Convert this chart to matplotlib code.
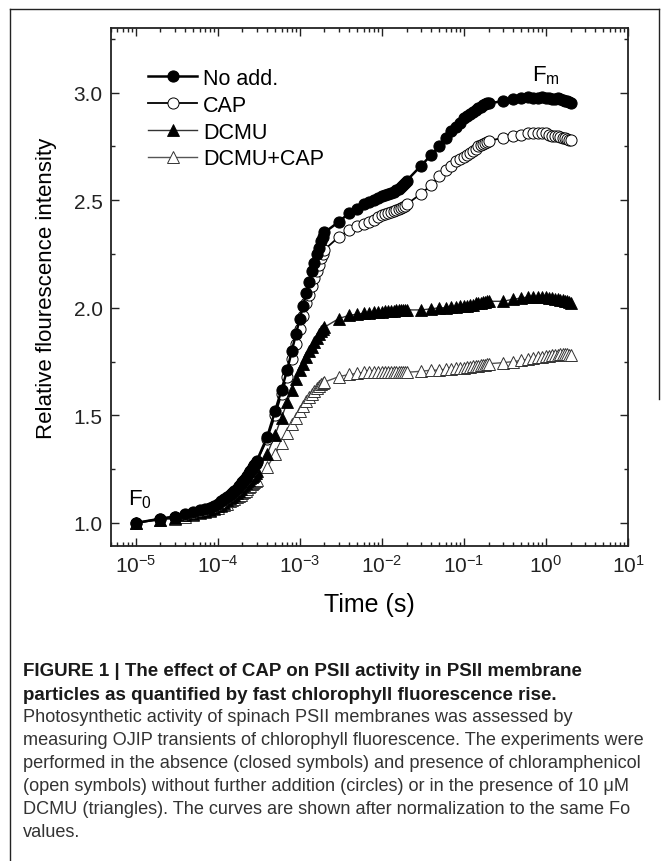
import matplotlib
matplotlib.use("Agg")
import matplotlib.pyplot as plt
from matplotlib.ticker import (LogLocator, MultipleLocator, FormatStrFormatter, NullFormatter,
                               FixedLocator, FixedFormatter)
from matplotlib.lines import Line2D

# ---------------- data ----------------
# time points (seconds)
time_s = [
    1e-5, 2e-5, 3e-5, 4e-5, 5e-5, 6e-5, 7e-5, 8e-5, 9e-5, 1.0e-4,
    1.1e-4, 1.2e-4, 1.3e-4, 1.4e-4, 1.5e-4, 1.6e-4, 1.7e-4, 1.8e-4, 1.9e-4, 2.0e-4,
    2.1e-4, 2.2e-4, 2.3e-4, 2.4e-4, 2.5e-4, 2.6e-4, 2.7e-4, 2.8e-4, 2.9e-4, 3.0e-4,
    4e-4, 5e-4, 6e-4, 7e-4, 8e-4, 9e-4, 1.0e-3, 1.1e-3, 1.2e-3, 1.3e-3,
    1.4e-3, 1.5e-3, 1.6e-3, 1.7e-3, 1.8e-3, 1.9e-3, 2.0e-3,
    3e-3, 4e-3, 5e-3, 6e-3, 7e-3, 8e-3, 9e-3, 1.0e-2, 1.1e-2, 1.2e-2,
    1.3e-2, 1.4e-2, 1.5e-2, 1.6e-2, 1.7e-2, 1.8e-2, 1.9e-2, 2.0e-2,
    0.03, 0.04, 0.05, 0.06, 0.07, 0.08, 0.09, 0.10, 0.11, 0.12,
    0.13, 0.14, 0.15, 0.16, 0.17, 0.18, 0.19, 0.20,
    0.3, 0.4, 0.5, 0.6, 0.7, 0.8, 0.9, 1.0, 1.1, 1.2,
    1.3, 1.4, 1.5, 1.6, 1.7, 1.8, 1.9, 2.0,
]

no_add = [
    1.00, 1.02, 1.03, 1.04, 1.05, 1.06, 1.065, 1.07, 1.08, 1.09,
    1.10, 1.11, 1.12, 1.13, 1.14, 1.15, 1.16, 1.17, 1.18, 1.19,
    1.20, 1.21, 1.22, 1.23, 1.24, 1.25, 1.26, 1.27, 1.28, 1.29,
    1.40, 1.52, 1.62, 1.71, 1.80, 1.88, 1.95, 2.01, 2.07, 2.12,
    2.17, 2.21, 2.25, 2.28, 2.31, 2.33, 2.35,
    2.40, 2.44, 2.46, 2.48, 2.49, 2.50, 2.51, 2.52, 2.525, 2.53,
    2.535, 2.54, 2.545, 2.55, 2.56, 2.57, 2.58, 2.59,
    2.66, 2.71, 2.75, 2.79, 2.82, 2.84, 2.86, 2.88, 2.89, 2.90,
    2.91, 2.92, 2.93, 2.935, 2.94, 2.945, 2.95, 2.95,
    2.96, 2.97, 2.975, 2.98, 2.975, 2.975, 2.98, 2.975, 2.975, 2.97,
    2.97, 2.975, 2.97, 2.965, 2.96, 2.96, 2.955, 2.95,
]

cap = [
    1.00, 1.02, 1.03, 1.035, 1.045, 1.055, 1.06, 1.07, 1.075, 1.085,
    1.095, 1.105, 1.115, 1.125, 1.135, 1.145, 1.155, 1.165, 1.175, 1.185,
    1.195, 1.205, 1.215, 1.225, 1.235, 1.245, 1.255, 1.265, 1.275, 1.285,
    1.39, 1.50, 1.60, 1.68, 1.76, 1.83, 1.90, 1.96, 2.02, 2.06,
    2.10, 2.14, 2.17, 2.20, 2.23, 2.25, 2.27,
    2.33, 2.36, 2.38, 2.39, 2.40, 2.41, 2.42, 2.43, 2.435, 2.44,
    2.445, 2.45, 2.455, 2.46, 2.465, 2.47, 2.475, 2.48,
    2.53, 2.57, 2.61, 2.64, 2.66, 2.68, 2.69, 2.70, 2.71, 2.72,
    2.73, 2.74, 2.75, 2.755, 2.76, 2.765, 2.77, 2.775,
    2.79, 2.80, 2.805, 2.81, 2.81, 2.81, 2.81, 2.81, 2.805, 2.80,
    2.80, 2.80, 2.795, 2.79, 2.79, 2.785, 2.78, 2.78,
]

dcmu = [
    1.00, 1.015, 1.025, 1.035, 1.04, 1.05, 1.055, 1.06, 1.07, 1.08,
    1.085, 1.095, 1.105, 1.115, 1.12, 1.13, 1.14, 1.15, 1.16, 1.17,
    1.175, 1.185, 1.195, 1.20, 1.21, 1.215, 1.22, 1.225, 1.23, 1.24,
    1.32, 1.41, 1.49, 1.56, 1.62, 1.67, 1.71, 1.74, 1.77, 1.80,
    1.82, 1.84, 1.86, 1.88, 1.89, 1.90, 1.91,
    1.95, 1.965, 1.97, 1.975, 1.975, 1.98, 1.98, 1.98, 1.985, 1.985,
    1.985, 1.985, 1.99, 1.99, 1.99, 1.99, 1.99, 1.99,
    1.99, 1.995, 2.00, 2.00, 2.005, 2.005, 2.01, 2.01, 2.01, 2.015,
    2.015, 2.02, 2.02, 2.02, 2.025, 2.025, 2.03, 2.03,
    2.03, 2.04, 2.045, 2.05, 2.05, 2.05, 2.05, 2.05, 2.045, 2.045,
    2.04, 2.04, 2.035, 2.035, 2.03, 2.03, 2.025, 2.02,
]

dcmu_cap = [
    1.00, 1.015, 1.02, 1.03, 1.035, 1.045, 1.05, 1.055, 1.065, 1.07,
    1.08, 1.085, 1.09, 1.10, 1.105, 1.11, 1.12, 1.125, 1.13, 1.14,
    1.145, 1.15, 1.16, 1.165, 1.17, 1.18, 1.185, 1.19, 1.195, 1.20,
    1.26, 1.32, 1.37, 1.42, 1.46, 1.49, 1.52, 1.545, 1.565, 1.585,
    1.60, 1.615, 1.625, 1.635, 1.645, 1.65, 1.655,
    1.68, 1.69, 1.695, 1.70, 1.70, 1.70, 1.70, 1.70, 1.70, 1.70,
    1.70, 1.70, 1.70, 1.70, 1.70, 1.70, 1.70, 1.70,
    1.705, 1.71, 1.71, 1.715, 1.715, 1.72, 1.72, 1.72, 1.725, 1.725,
    1.73, 1.73, 1.73, 1.735, 1.735, 1.735, 1.74, 1.74,
    1.745, 1.75, 1.755, 1.76, 1.765, 1.77, 1.77, 1.775, 1.775, 1.78,
    1.78, 1.78, 1.785, 1.785, 1.785, 1.785, 1.78, 1.78,
]

series_labels = ["No add.", "CAP", "DCMU", "DCMU+CAP"]
x_ticks = [1e-5, 1e-4, 1e-3, 1e-2, 1e-1, 1e0, 1e1]
x_tick_labels = [r'10$^{-5}$', r'10$^{-4}$', r'10$^{-3}$', r'10$^{-2}$',
                 r'10$^{-1}$', r'10$^{0}$', r'10$^{1}$']
x_label = "Time (s)"
y_label = "Relative flourescence intensity"
caption_bold = ["FIGURE 1 | The effect of CAP on PSII activity in PSII membrane",
                "particles as quantified by fast chlorophyll fluorescence rise."]
caption_body = ["Photosynthetic activity of spinach PSII membranes was assessed by",
                "measuring OJIP transients of chlorophyll fluorescence. The experiments were",
                "performed in the absence (closed symbols) and presence of chloramphenicol",
                "(open symbols) without further addition (circles) or in the presence of 10 \u03bcM",
                "DCMU (triangles). The curves are shown after normalization to the same Fo",
                "values."]

# ---------------- style ----------------
plt.rcParams['font.family'] = ['Liberation Sans', 'DejaVu Sans']
plt.rcParams['mathtext.fontset'] = 'custom'
plt.rcParams['mathtext.rm'] = 'Liberation Sans'
plt.rcParams['mathtext.it'] = 'Liberation Sans:italic'
plt.rcParams['mathtext.bf'] = 'Liberation Sans:bold'

W, H, DPI = 670, 862, 100
fig = plt.figure(figsize=(W / DPI, H / DPI), dpi=DPI)

def px(x, y):
    return x / W, 1 - y / H

ax_l, ax_r, ax_t, ax_b = 111, 628, 29, 547
ax = fig.add_axes([ax_l / W, 1 - ax_b / H, (ax_r - ax_l) / W, (ax_b - ax_t) / H])

styles = [
    dict(marker='o', mfc='black', mec='black', color='black', lw=1.8, ms=8.0, mew=0.8, zorder=6),
    dict(marker='o', mfc='white', mec='black', color='black', lw=1.3, ms=8.0, mew=0.7, zorder=5),
    dict(marker='^', mfc='black', mec='black', color='#333333', lw=1.0, ms=8.2, mew=0.6, zorder=4),
    dict(marker='^', mfc='white', mec='#333333', color='#555555', lw=1.0, ms=8.2, mew=0.7, zorder=3),
]
for ys, lab, st in zip([no_add, cap, dcmu, dcmu_cap], series_labels, styles):
    ax.plot(time_s, ys, label=lab, **st)

ax.set_xscale('log')
ax.set_xlim(5e-6, 10)
ax.set_ylim(0.893, 3.30)
ax.xaxis.set_major_locator(FixedLocator(x_ticks))
ax.xaxis.set_major_formatter(FixedFormatter(x_tick_labels))
ax.xaxis.set_minor_locator(LogLocator(base=10, subs=[2, 3, 4, 5, 6, 7, 8, 9], numticks=20))
ax.xaxis.set_minor_formatter(NullFormatter())
ax.yaxis.set_major_locator(MultipleLocator(0.5))
ax.yaxis.set_minor_locator(MultipleLocator(0.25))
ax.yaxis.set_major_formatter(FormatStrFormatter('%.1f'))

ax.tick_params(which='both', direction='in', top=True, right=True, width=1.0, colors='#222222')
ax.tick_params(which='major', length=6, labelsize=15, pad=6)
ax.tick_params(which='minor', length=3)
for s in ax.spines.values():
    s.set_linewidth(1.3)
    s.set_color('#222222')

ax.set_xlabel(x_label, fontsize=18, labelpad=11)
ax.set_ylabel(y_label, fontsize=16, labelpad=12)

leg_fs = 15.5
leg = ax.legend(loc='upper left', bbox_to_anchor=((148 - ax_l) / (ax_r - ax_l), (ax_b - 69) / (ax_b - ax_t)),
                frameon=False, fontsize=leg_fs, handlelength=2.28, handletextpad=0.28,
                labelspacing=0.27, borderpad=0, borderaxespad=0, numpoints=1)

fig.text(*px(532, 81), r'F$_\mathrm{m}$', fontsize=16, ha='left', va='baseline')
fig.text(*px(128, 505), r'F$_\mathrm{0}$', fontsize=16, ha='left', va='baseline')

# caption (font size fitted to the reference line widths)
renderer = fig.canvas.get_renderer()
y0 = 672
bold_texts = []
for i, line in enumerate(caption_bold):
    bold_texts.append(fig.text(*px(23, y0 + 23 * i), line, fontsize=14, fontweight='bold',
                               ha='left', va='center', color='#1a1a1a'))
body_texts = []
for i, line in enumerate(caption_body):
    body_texts.append(fig.text(*px(23, y0 + 46 + 23 * i), line, fontsize=14,
                               ha='left', va='center', color='#333333'))
wb = bold_texts[0].get_window_extent(renderer).width
for t in bold_texts:
    t.set_fontsize(14 * 562 / wb)
wn = body_texts[1].get_window_extent(renderer).width
for t in body_texts:
    t.set_fontsize(14 * 627 / wn)

# outer border
bc = '#222222'
fig.add_artist(Line2D([10 / W, 10 / W], [1 - 10 / H, 0], transform=fig.transFigure, color=bc, lw=1.0))
fig.add_artist(Line2D([10 / W, 659 / W], [1 - 10 / H, 1 - 10 / H], transform=fig.transFigure, color=bc, lw=1.0))
fig.add_artist(Line2D([659 / W, 659 / W], [1 - 10 / H, 1 - 400 / H], transform=fig.transFigure, color=bc, lw=1.0))

fig.savefig('out.png', dpi=DPI)
